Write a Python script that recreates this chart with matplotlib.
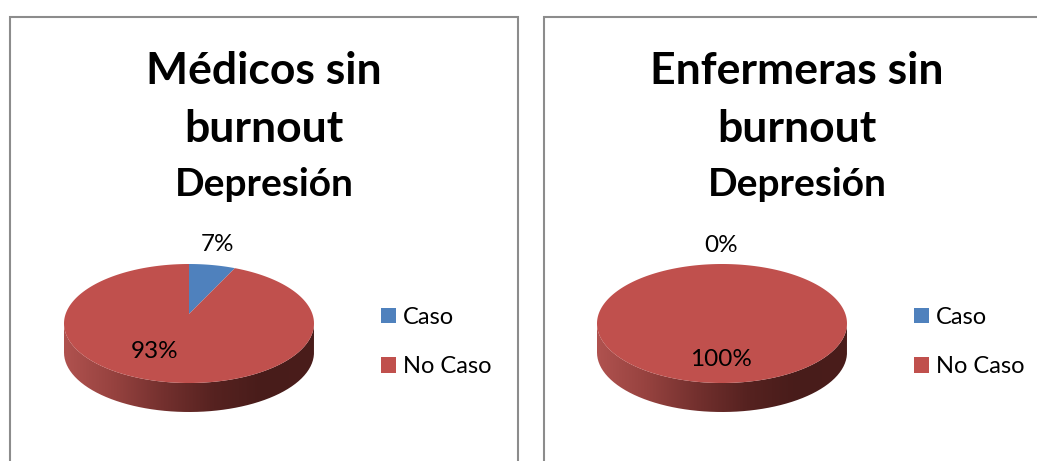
import numpy as np
import matplotlib
matplotlib.use('Agg')
import matplotlib.pyplot as plt
from matplotlib.patches import Rectangle, PathPatch
from matplotlib.path import Path
from matplotlib.colors import LinearSegmentedColormap

W, H = 1037, 461

categorias = ['Caso', 'No Caso']
medicos = [7, 93]
enfermeras = [0, 100]
titulos = ['Médicos sin\nburnout', 'Enfermeras sin\nburnout']
subtitulo = 'Depresión'

colores = ['#4F81BD', '#C0504D']
gris = '#8C8C8C'
lado = LinearSegmentedColormap.from_list(
    'lado', ['#B0524F', '#96423F', '#73302E', '#562220', '#481C1A', '#4A1D1B'])

plt.rcParams['font.family'] = ['Lato', 'DejaVu Sans']

fig = plt.figure(figsize=(W / 100, H / 100), dpi=100)


def fx(x):
    return x / W


def fy(y):
    return 1 - y / H


# perspectiva de la tapa: el fondo se comprime hacia el centro
K = 0.16
DEPTH = 0.487


def tapa(x, y):
    w = 1 + K * y
    px = x / w * np.sqrt(1 - K ** 2)
    py = y / w * (1 - K ** 2) + K
    return px, py


def pastel(valores, x0, x1, y0, y1, etiquetas, ley_x, ley_y):
    # caja en pixeles: tapa + grosor
    ax = fig.add_axes([fx(x0), fy(y1), fx(x1 - x0), (y1 - y0) / H])
    ax.set_xlim(-1, 1)
    ax.set_ylim(-1 - DEPTH, 1)
    ax.axis('off')

    # costado con degradado
    t = np.linspace(np.pi, 2 * np.pi, 120)
    xs, ys = np.cos(t), np.sin(t)
    verts = list(zip(xs, ys)) + list(zip(xs[::-1], ys[::-1] - DEPTH))
    verts.append(verts[0])
    borde = PathPatch(Path(verts), fc='none', ec='none')
    ax.add_patch(borde)
    grad = np.linspace(0, 1, 256).reshape(1, -1)
    im = ax.imshow(grad, cmap=lado, extent=(-1, 1, -1 - DEPTH, 0), aspect='auto', zorder=1)
    im.set_clip_path(borde)
    ax.set_xlim(-1, 1)
    ax.set_ylim(-1 - DEPTH, 1)

    # sectores, desde las 12 en sentido horario
    handles = []
    ini = 0.0
    for v, c, cat in zip(valores, colores, categorias):
        fin = ini + v / sum(valores) * 2 * np.pi
        a = np.linspace(ini, fin, 200)
        px, py = tapa(np.r_[0, np.sin(a)], np.r_[0, np.cos(a)])
        h = ax.fill(px, py, color=c, lw=0, zorder=2, label=cat)[0]
        handles.append(h)
        ini = fin

    for v, (tx, ty) in zip(valores, etiquetas):
        fig.text(fx(tx), fy(ty), f'{v}%', fontsize=17.5, color='black',
                 ha='center', va='center', zorder=5)

    fig.legend(handles=handles, loc='upper left', frameon=False, fontsize=17,
               bbox_to_anchor=(fx(ley_x), fy(ley_y)), borderpad=0, borderaxespad=0,
               handlelength=0.62, handleheight=0.62, handletextpad=0.3,
               labelspacing=1.2)


# marcos de cada grafico
for x0, x1 in [(9.5, 517.5), (543.5, 1060)]:
    fig.add_artist(Rectangle((fx(x0), fy(480)), fx(x1 - x0), (480 - 17) / H,
                             transform=fig.transFigure, fc='white', ec=gris, lw=1.5,
                             zorder=-1))

for titulo, cx in zip(titulos, [264, 797]):
    fig.text(fx(cx), fy(71), titulo.split('\n')[0], fontsize=32, fontweight='bold',
             ha='center', va='center')
    fig.text(fx(cx), fy(129), titulo.split('\n')[1], fontsize=32, fontweight='bold',
             ha='center', va='center')
    fig.text(fx(cx), fy(185), subtitulo, fontsize=28, fontweight='bold',
             ha='center', va='center')

pastel(medicos, 64, 314, 264, 412, [(218, 244), (155, 352)], 381, 307)
pastel(enfermeras, 597, 847, 264, 412, [(721, 246), (721, 359)], 914, 307)

fig.savefig('out.png', dpi=100)
